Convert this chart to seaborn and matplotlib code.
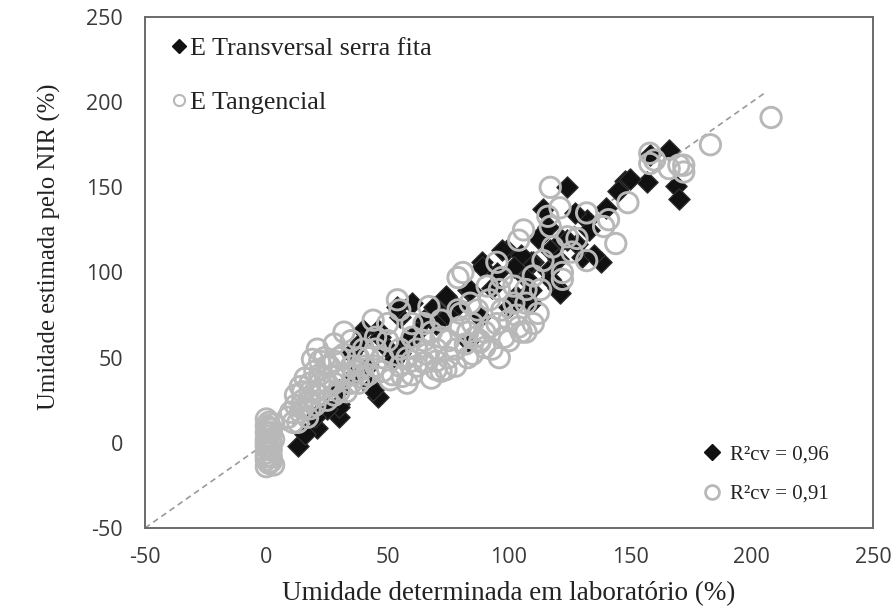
import matplotlib
matplotlib.use("Agg")
import matplotlib.pyplot as plt
from matplotlib.lines import Line2D
import seaborn as sns
import pandas as pd

# ---- data ----
transv_x = [166, 157, 158, 169, 170, 148, 145, 124, 140, 138, 132, 122, 114, 128, 116, 130,
            110, 99, 89, 107, 120, 116, 83, 93, 103, 109, 124, 97, 89, 109, 117, 121, 84, 109,
            100, 88, 83, 74, 69, 60, 55, 40, 46, 39, 55, 47, 70, 46, 35, 30, 43, 30, 30, 21,
            13, 54, 44, 30, 117, 105, 95, 78, 65, 62, 75, 50, 52, 58, 42, 36, 25, 20, 16, 133,
            127, 112, 102, 120, 150, 135]
transv_y = [172, 153, 169, 151, 143, 154, 148, 150, 138, 106, 131, 119, 137, 117, 127, 109,
            106, 113, 106, 97, 91, 101, 90, 91, 86, 82, 119, 113, 103, 106, 96, 88, 90, 90,
            80, 74, 60, 86, 80, 82, 74, 66, 66, 59, 53, 62, 70, 27, 53, 31, 33, 23, 15, 9,
            -2, 80, 31, 21, 113, 110, 100, 80, 72, 65, 75, 55, 48, 60, 45, 40, 20, 15, 5, 125,
            135, 120, 103, 108, 155, 110]

tang_x = [208, 183, 172, 172, 170, 166, 158, 158, 160, 149, 144, 141, 139, 132, 121, 117,
          116, 117, 106, 104, 124, 114, 132, 122, 122, 113, 107, 96, 97, 92, 87, 112, 107,
          96, 83, 104, 88, 92, 83, 100, 81, 80, 79, 95, 97, 107, 91, 102, 84, 88, 90,
          54, 55, 44, 32, 21, 19, 14, 67, 79, 65, 70, 74, 65, 56, 58, 51, 62, 60, 48, 40,
          36, 30, 26, 25, 22, 18, 15, 12, 10, 28, 33, 45, 50, 40, 35, 28, 24, 20, 16, 12,
          9, 11, 42, 38, 55, 48, 60, 70, 75, 80, 85, 68, 72, 60, 50, 45, 38, 30, 26, 22,
          18, 14,
          15, 18, 20, 22, 25, 28, 30, 32, 35, 35, 38, 40, 42, 45, 20, 17, 13, 25, 28, 32,
          15, 18, 22,
          55, 58, 62, 66, 70, 75, 78, 82, 86, 90, 95, 100, 103, 65, 72, 60, 68, 52, 78, 85,
          93, 98, 110, 105, 72, 118, 126, 110, 128, 102,
          0, 1, 0, 2, 0, 1, 0, 2, 0, 1, 0, 2, 0, 1, 0, 3, 2, 1, 3, 2, 0, 1, 3, 0, 2]
tang_y = [191, 175, 163, 159, 163, 161, 170, 164, 166, 141, 117, 131, 127, 135, 138, 150,
          133, 127, 125, 119, 121, 107, 107, 100, 96, 90, 82, 90, 78, 84, 78, 76, 65,
          50, 50, 68, 60, 68, 65, 60, 100, 76, 97, 106, 97, 90, 92, 82, 82, 59, 56,
          84, 78, 72, 65, 55, 49, 33, 80, 78, 70, 43, 43, 47, 39, 35, 37, 55, 62, 50, 45,
          40, 50, 45, 35, 40, 30, 25, 22, 18, 28, 30, 55, 60, 55, 60, 58, 50, 42, 38, 28,
          15, 12, 40, 35, 45, 42, 48, 55, 60, 68, 70, 65, 72, 70, 70, 62, 50, 40, 33, 28,
          20, 18,
          20, 25, 30, 35, 25, 35, 30, 38, 45, 35, 42, 38, 50, 45, 22, 15, 12, 45, 48, 52,
          30, 35, 48,
          55, 50, 45, 52, 48, 50, 55, 58, 62, 65, 70, 72, 75, 60, 62, 40, 38, 40, 45, 52,
          55, 62, 70, 65, 42, 115, 112, 98, 120, 92,
          14, 12, 10, 8, 6, 4, 2, 0, -2, -4, -6, -8, -10, -12, -14, -13, -11, -2, 2, 6, 0,
          9, 11, -8, -4]

line_x = [-50, 205]
line_y = [-50, 205]

x_ticks = [-50, 0, 50, 100, 150, 200, 250]
y_ticks = [-50, 0, 50, 100, 150, 200, 250]

series_names = ["E Transversal serra fita", "E Tangencial"]
r2_labels = ["R\u00b2cv = 0,96", "R\u00b2cv = 0,91"]
x_label = "Umidade determinada em laboratório (%)"
y_label = "Umidade estimada pelo NIR (%)"

df_t = pd.DataFrame({"x": transv_x, "y": transv_y})
df_g = pd.DataFrame({"x": tang_x, "y": tang_y})

sns.set_theme(style="white")
plt.rcParams["font.family"] = ["Liberation Serif", "DejaVu Serif"]

fig = plt.figure(figsize=(8.96, 6.15), dpi=100)
ax = fig.add_axes([145 / 896, 87 / 615, 728 / 896, 511 / 615])

circle_col = "#b8b8b8"

ax.plot(line_x, line_y, linestyle=(0, (3.5, 2.5)), color="#9a9a9a", lw=1.2, zorder=1)

sns.scatterplot(data=df_t, x="x", y="y", marker="D", s=120, color="#111111",
                edgecolor="#333333", linewidth=0.8, ax=ax, zorder=2, legend=False)
sns.scatterplot(data=df_g, x="x", y="y", marker="o", s=215, facecolor="none",
                edgecolor=circle_col, linewidth=2.1, ax=ax, zorder=3, legend=False)

ax.set_xlim(-50, 250)
ax.set_ylim(-50, 250)
ax.set_xticks(x_ticks)
ax.set_yticks(y_ticks)
ax.set_xticklabels([str(v) for v in x_ticks])
ax.set_yticklabels([str(v) for v in y_ticks])
for lab in ax.get_xticklabels() + ax.get_yticklabels():
    lab.set_fontfamily("Open Sans")
    lab.set_fontsize(15.5)
    lab.set_color("#3a3a3a")
ax.tick_params(axis="both", length=0)
ax.tick_params(axis="x", pad=14)
ax.tick_params(axis="y", pad=16)

for sp in ax.spines.values():
    sp.set_color("#6a6a6a")
    sp.set_linewidth(1.4)

ax.set_xlabel(x_label, fontsize=19.5, color="#222222", labelpad=9)
ax.set_ylabel(y_label, fontsize=17.8, color="#222222")
ax.yaxis.set_label_coords(-0.115, 0.55)
ax.grid(False)

h1 = [Line2D([], [], marker="D", linestyle="none", markersize=7.5, color="#111111"),
      Line2D([], [], marker="o", linestyle="none", markersize=8, markerfacecolor="none",
             markeredgecolor=circle_col, markeredgewidth=1.5)]
leg1 = ax.legend(h1, series_names, loc="upper left", bbox_to_anchor=(0.038, 0.962),
                 frameon=False, fontsize=18.8, handlelength=0.5, handletextpad=0.15,
                 labelspacing=1.2, borderaxespad=0, borderpad=0)
for t in leg1.get_texts():
    t.set_color("#222222")
ax.add_artist(leg1)

h2 = [Line2D([], [], marker="D", linestyle="none", markersize=8.5, color="#111111"),
      Line2D([], [], marker="o", linestyle="none", markersize=10, markerfacecolor="none",
             markeredgecolor=circle_col, markeredgewidth=2.0)]
leg2 = ax.legend(h2, r2_labels, loc="lower left", bbox_to_anchor=(0.765, 0.047),
                 frameon=False, fontsize=15, handlelength=1.0, handletextpad=0.35,
                 labelspacing=0.95, borderaxespad=0, borderpad=0)
for t in leg2.get_texts():
    t.set_color("#222222")

fig.savefig("out.png", dpi=100)
